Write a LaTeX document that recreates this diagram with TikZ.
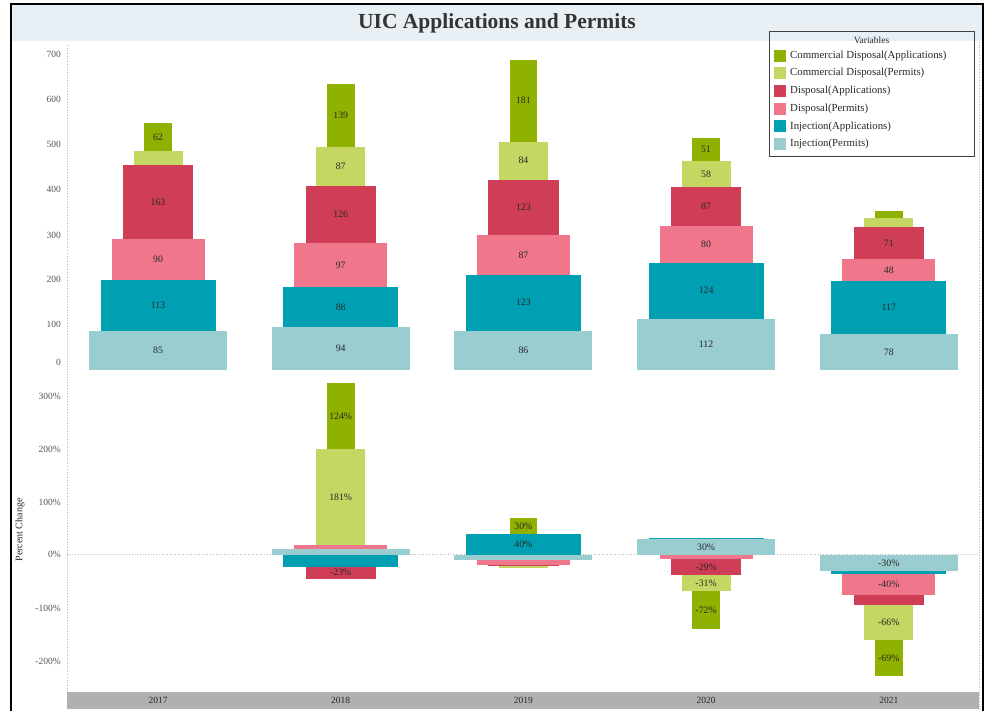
\documentclass[tikz,border=0pt]{standalone}
\usepackage{fontspec}
\setmainfont{Liberation Serif}
\definecolor{cA}{RGB}{143,178,0}
\definecolor{cP}{RGB}{198,214,98}
\definecolor{dA}{RGB}{208,61,86}
\definecolor{dP}{RGB}{240,118,140}
\definecolor{iA}{RGB}{0,160,178}
\definecolor{iP}{RGB}{154,205,208}
\definecolor{band}{RGB}{232,240,245}
\definecolor{axband}{RGB}{176,176,176}
\definecolor{labeltxt}{RGB}{40,40,40}
\definecolor{axtxt}{RGB}{85,85,85}
\definecolor{dotc}{RGB}{185,185,185}
\newcounter{lc}
\def\hwa{69}\def\hwb{57.5}\def\hwc{46.5}\def\hwd{35.2}\def\hwe{24.5}\def\hwf{13.8}
% top chart segment: center, halfwidth, v0, v1, colour
\newcommand\tsg[5]{\fill[#5] ({#1-#2},{369.5-0.453*(#3)}) rectangle ({#1+#2},{369.5-0.453*(#4)});}
\newcommand\tlb[4]{\stepcounter{lc}\node[lbl] (tl\thelc) at (#1,{369.5-0.453*((#2)+(#3))/2}) {#4};}
% bottom chart segment
\newcommand\bsg[5]{\fill[#5] ({#1-#2},{555-0.53*(#3)}) rectangle ({#1+#2},{555-0.53*(#4)});}
\newcommand\blb[4]{\stepcounter{lc}\node[lbl] (bl\thelc) at (#1,{555-0.53*((#2)+(#3))/2}) {#4};}
\begin{document}
\begin{tikzpicture}[x=1pt,y=-1pt,
  lbl/.style={font=\fontsize{9.8}{10}\selectfont, text=labeltxt, inner sep=0pt},
  axl/.style={font=\fontsize{9.5}{10}\selectfont, text=axtxt, anchor=east, inner sep=0pt},
  yrl/.style={font=\fontsize{9.5}{10}\selectfont, text=labeltxt, inner sep=0pt},
  legt/.style={font=\fontsize{10.8}{11}\selectfont, text=labeltxt, anchor=west, inner sep=0pt},
  dotline/.style={dotc, line width=0.9pt, dash pattern=on 0.9pt off 1.8pt}]
\useasboundingbox (0,0) rectangle (985,711);
\fill[white] (0,0) rectangle (985,711);
% title band
\fill[band] (11,4) rectangle (983,41);
\node[font=\fontsize{21.5}{24}\selectfont\bfseries, text=black!80, inner sep=0pt] (title) at (497,23) {UIC Applications and Permits};
% frame
\draw[black, line width=1.6pt] (11,711) -- (11,4) -- (983,4) -- (983,711);
% axes dotted
\draw[dotline] (67,45) -- (67,692);
\draw[dotline] (979,42) -- (979,710);
\draw[dotline, line width=0.7pt] (67,554.5) -- (979,554.5);
% y labels top
\node[axl] (y700) at (61,54) {700};
\node[axl] (y600) at (61,99) {600};
\node[axl] (y500) at (61,144) {500};
\node[axl] (y400) at (61,189.5) {400};
\node[axl] (y300) at (61,235) {300};
\node[axl] (y200) at (61,279.5) {200};
\node[axl] (y100) at (61,324.5) {100};
\node[axl] (y0) at (61,362.5) {0};
% y labels bottom
\node[axl] (p300) at (61,396) {300\%};
\node[axl] (p200) at (61,449) {200\%};
\node[axl] (p100) at (61,502) {100\%};
\node[axl] (p0) at (61,554.5) {0\%};
\node[axl] (pm100) at (61,608) {-100\%};
\node[axl] (pm200) at (61,661) {-200\%};
\node[font=\fontsize{10}{11}\selectfont, text=labeltxt, rotate=90, inner sep=0pt] (pc) at (20,530) {Percent Change};
% ---- top chart ----
% 2017
\tsg{158}{\hwa}{0}{85}{iP}\tsg{158}{\hwb}{85}{198}{iA}\tsg{158}{\hwc}{198}{288}{dP}
\tsg{158}{\hwd}{288}{451}{dA}\tsg{158}{\hwe}{451}{482}{cP}\tsg{158}{\hwf}{482}{544}{cA}
\tlb{158}{0}{85}{85}\tlb{158}{85}{198}{113}\tlb{158}{198}{288}{90}\tlb{158}{288}{451}{163}\tlb{158}{482}{544}{62}
% 2018
\tsg{340.7}{\hwa}{0}{94}{iP}\tsg{340.7}{\hwb}{94}{182}{iA}\tsg{340.7}{\hwc}{182}{279}{dP}
\tsg{340.7}{\hwd}{279}{405}{dA}\tsg{340.7}{\hwe}{405}{492}{cP}\tsg{340.7}{\hwf}{492}{631}{cA}
\tlb{340.7}{0}{94}{94}\tlb{340.7}{94}{182}{88}\tlb{340.7}{182}{279}{97}\tlb{340.7}{279}{405}{126}\tlb{340.7}{405}{492}{87}\tlb{340.7}{492}{631}{139}
% 2019
\tsg{523.4}{\hwa}{0}{86}{iP}\tsg{523.4}{\hwb}{86}{209}{iA}\tsg{523.4}{\hwc}{209}{296}{dP}
\tsg{523.4}{\hwd}{296}{419}{dA}\tsg{523.4}{\hwe}{419}{503}{cP}\tsg{523.4}{\hwf}{503}{684}{cA}
\tlb{523.4}{0}{86}{86}\tlb{523.4}{86}{209}{123}\tlb{523.4}{209}{296}{87}\tlb{523.4}{296}{419}{123}\tlb{523.4}{419}{503}{84}\tlb{523.4}{503}{684}{181}
% 2020
\tsg{706.1}{\hwa}{0}{112}{iP}\tsg{706.1}{\hwb}{112}{236}{iA}\tsg{706.1}{\hwc}{236}{316}{dP}
\tsg{706.1}{\hwd}{316}{403}{dA}\tsg{706.1}{\hwe}{403}{461}{cP}\tsg{706.1}{\hwf}{461}{512}{cA}
\tlb{706.1}{0}{112}{112}\tlb{706.1}{112}{236}{124}\tlb{706.1}{236}{316}{80}\tlb{706.1}{316}{403}{87}\tlb{706.1}{403}{461}{58}\tlb{706.1}{461}{512}{51}
% 2021
\tsg{888.8}{\hwa}{0}{78}{iP}\tsg{888.8}{\hwb}{78}{195}{iA}\tsg{888.8}{\hwc}{195}{243}{dP}
\tsg{888.8}{\hwd}{243}{314}{dA}\tsg{888.8}{\hwe}{314}{334}{cP}\tsg{888.8}{\hwf}{334}{350}{cA}
\tlb{888.8}{0}{78}{78}\tlb{888.8}{78}{195}{117}\tlb{888.8}{195}{243}{48}\tlb{888.8}{243}{314}{71}
% ---- bottom chart ----
% 2018
\bsg{340.7}{\hwa}{0}{10.6}{iP}\bsg{340.7}{\hwb}{0}{-22.1}{iA}\bsg{340.7}{\hwc}{10.6}{18.4}{dP}
\bsg{340.7}{\hwd}{-22.1}{-44.8}{dA}\bsg{340.7}{\hwe}{18.4}{199.4}{cP}\bsg{340.7}{\hwf}{199.4}{323.6}{cA}
\blb{340.7}{199.4}{323.6}{124\%}\blb{340.7}{18.4}{199.4}{181\%}\blb{340.7}{-22.1}{-44.8}{-23\%}
% 2019
\bsg{523.4}{\hwa}{0}{-8.5}{iP}\bsg{523.4}{\hwb}{0}{39.8}{iA}\bsg{523.4}{\hwc}{-8.5}{-18.8}{dP}
\bsg{523.4}{\hwd}{-18.8}{-21.2}{dA}\bsg{523.4}{\hwe}{-21.2}{-24.6}{cP}\bsg{523.4}{\hwf}{39.8}{70.0}{cA}
\blb{523.4}{39.8}{70.0}{30\%}\blb{523.4}{0}{39.8}{40\%}
% 2020
\bsg{706.1}{\hwa}{0}{30.2}{iP}\bsg{706.1}{\hwb}{30.2}{31.2}{iA}\bsg{706.1}{\hwc}{0}{-8.0}{dP}
\bsg{706.1}{\hwd}{-8.0}{-37.3}{dA}\bsg{706.1}{\hwe}{-37.3}{-68.3}{cP}\bsg{706.1}{\hwf}{-68.3}{-140.1}{cA}
\blb{706.1}{0}{30.2}{30\%}\blb{706.1}{-8.0}{-37.3}{-29\%}\blb{706.1}{-37.3}{-68.3}{-31\%}\blb{706.1}{-68.3}{-140.1}{-72\%}
% 2021
\bsg{888.8}{\hwa}{0}{-30.4}{iP}\bsg{888.8}{\hwb}{-30.4}{-36.0}{iA}\bsg{888.8}{\hwc}{-36.0}{-76.0}{dP}
\bsg{888.8}{\hwd}{-76.0}{-94.4}{dA}\bsg{888.8}{\hwe}{-94.4}{-159.9}{cP}\bsg{888.8}{\hwf}{-159.9}{-228.5}{cA}
\blb{888.8}{0}{-30.4}{-30\%}\blb{888.8}{-36.0}{-76.0}{-40\%}\blb{888.8}{-94.4}{-159.9}{-66\%}\blb{888.8}{-159.9}{-228.5}{-69\%}
% x axis band
\fill[axband] (67,692) rectangle (979,709);
\node[yrl] (x2017) at (158,700.5) {2017};
\node[yrl] (x2018) at (340.7,700.5) {2018};
\node[yrl] (x2019) at (523.4,700.5) {2019};
\node[yrl] (x2020) at (706.1,700.5) {2020};
\node[yrl] (x2021) at (888.8,700.5) {2021};
% legend
\fill[white] (769,31) rectangle (974,156);
\fill[band] (769,31) rectangle (974,41);
\draw[black!75, line width=0.9pt] (769,31) rectangle (974,156);
\node[font=\fontsize{9.5}{10}\selectfont, text=labeltxt, inner sep=0pt] (legtitle) at (871.5,40) {Variables};
\fill[cA] (773.5,49.7) rectangle (785.5,61.7);
\node[legt] (lg1) at (790,55.7) {Commercial Disposal(Applications)};
\fill[cP] (773.5,67.4) rectangle (785.5,79.4);
\node[legt] (lg2) at (790,73.4) {Commercial Disposal(Permits)};
\fill[dA] (773.5,85.1) rectangle (785.5,97.1);
\node[legt] (lg3) at (790,91.1) {Disposal(Applications)};
\fill[dP] (773.5,102.8) rectangle (785.5,114.8);
\node[legt] (lg4) at (790,108.8) {Disposal(Permits)};
\fill[iA] (773.5,120.5) rectangle (785.5,132.5);
\node[legt] (lg5) at (790,126.5) {Injection(Applications)};
\fill[iP] (773.5,138.2) rectangle (785.5,150.2);
\node[legt] (lg6) at (790,144.2) {Injection(Permits)};
\end{tikzpicture}
\end{document}
